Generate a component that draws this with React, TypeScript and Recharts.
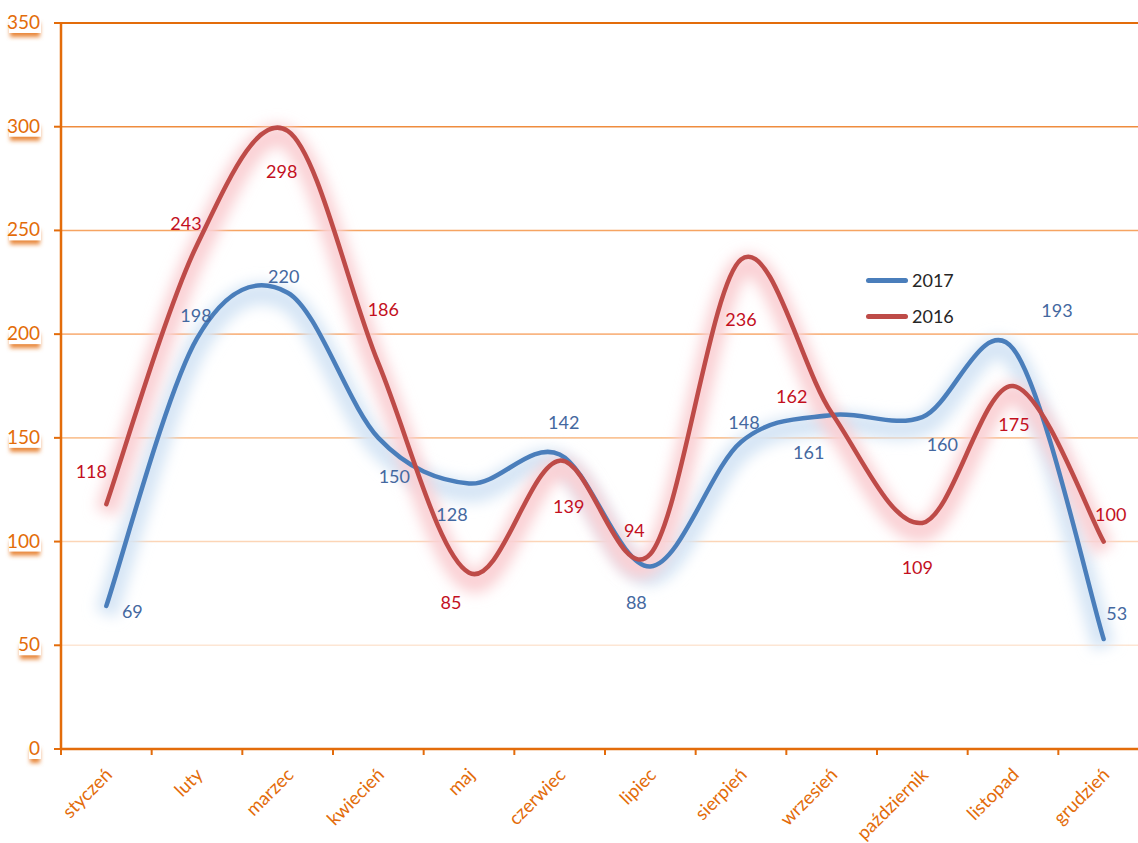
import React from 'react';
import { LineChart, Line, XAxis, YAxis, ReferenceLine, LabelList } from 'recharts';

const months = ['styczeń', 'luty', 'marzec', 'kwiecień', 'maj', 'czerwiec', 'lipiec', 'sierpień', 'wrzesień', 'październik', 'listopad', 'grudzień'];
const values2017 = [69, 198, 220, 150, 128, 142, 88, 148, 161, 160, 193, 53];
const values2016 = [118, 243, 298, 186, 85, 139, 94, 236, 162, 109, 175, 100];
const yTicks = [0, 50, 100, 150, 200, 250, 300, 350];
const seriesNames = ['2017', '2016'];

// label placement relative to the point (layout only)
const offsets2017 = [[26, 6], [-1, -22], [-4, -16], [16, 39], [-17, 32], [4, -31], [-14, 37], [3, -19], [-23, 38], [20, 28], [44, -38], [13, -25]];
const offsets2016 = [[-15, -32], [-11, -21], [-6, 41], [5, -53], [-18, 30], [9, 46], [-16, -23], [0, 61], [-40, -16], [-5, 45], [1, 39], [7, -27]];

const gridColors: Record<number, string> = {
  50: '#FDE6D4', 100: '#FCD5B6', 150: '#FAC497', 200: '#F9B683', 250: '#F6A462', 300: '#EF8C3E', 350: '#E36C0A',
};

const ORANGE = '#E36C0A';
const BLUE = '#4A7EBB';
const RED = '#BE4B48';
const FONT = 'Lato, "Open Sans", sans-serif';

const CHART_W = 1150;
const LEFT = 61;
const PLOT_W = 1088;
const HALF_BAND = PLOT_W / months.length / 2;

const data = months.map((m, i) => ({ month: m, y2017: values2017[i], y2016: values2016[i] }));

// Excel-like smoothing (Catmull-Rom as cubic bezier)
const smoothCurve: any = (context: any) => {
  let pts: number[][] = [];
  return {
    areaStart() {},
    areaEnd() {},
    lineStart() { pts = []; },
    point(x: number, y: number) { pts.push([+x, +y]); },
    lineEnd() {
      if (!pts.length) return;
      context.moveTo(pts[0][0], pts[0][1]);
      for (let i = 0; i < pts.length - 1; i++) {
        const p0 = pts[i - 1] || pts[i];
        const p1 = pts[i];
        const p2 = pts[i + 1];
        const p3 = pts[i + 2] || p2;
        context.bezierCurveTo(
          p1[0] + (p2[0] - p0[0]) / 6, p1[1] + (p2[1] - p0[1]) / 6,
          p2[0] - (p3[0] - p1[0]) / 6, p2[1] - (p3[1] - p1[1]) / 6,
          p2[0], p2[1]
        );
      }
    },
  };
};

const YTick = (props: any) => {
  const { x, y, payload } = props;
  const label = String(payload.value);
  const w = label.length * 10;
  const right = x - 12;
  return (
    <g>
      <rect x={right - w} y={y} width={w} height={14} fill="#E8873A" filter="url(#tickShadow)" />
      <rect x={right - w - 1} y={y - 11} width={w + 2} height={21} fill="#fff" />
      <text x={right} y={y} dy={6} textAnchor="end" fill={ORANGE} fontSize={19} fontFamily={FONT}>{label}</text>
    </g>
  );
};

const XTick = (props: any) => {
  const { x, y, payload } = props;
  return (
    <g>
      <line x1={x - HALF_BAND} x2={x - HALF_BAND} y1={y - 8} y2={y - 2} stroke={ORANGE} strokeWidth={2} />
      <text x={x + 7} y={y + 19} textAnchor="end" fill={ORANGE} fontSize={18.5} fontFamily={FONT}
        transform={`rotate(-45, ${x + 7}, ${y + 19})`}>{payload.value}</text>
    </g>
  );
};

const makeLabel = (offsets: number[][], color: string) => (props: any) => {
  const { x, y, value, index } = props;
  const [dx, dy] = offsets[index];
  return (
    <text x={x + dx} y={y + dy} dy={6} textAnchor="middle" fill={color} fontSize={18} fontFamily={FONT}>{value}</text>
  );
};

const LegendBox = () => (
  <div style={{ position: 'absolute', left: 866, top: 262, fontFamily: FONT, fontSize: 18, color: '#262626' }}>
    {[BLUE, RED].map((c, i) => (
      <div key={seriesNames[i]} style={{ display: 'flex', alignItems: 'center', height: 36 }}>
        <div style={{ width: 42, height: 5, borderRadius: 3, background: c, marginRight: 4 }} />
        <span>{seriesNames[i]}</span>
      </div>
    ))}
  </div>
);

export default function App() {
  return (
    <div style={{ position: 'fixed', left: 0, top: 0, width: 1138, height: 843, overflow: 'hidden', background: '#fff' }}>
      <LineChart width={CHART_W} height={843} data={data} margin={{ top: 23, right: CHART_W - LEFT - PLOT_W, bottom: 0, left: 0 }}>
        <defs>
          <filter id="tickShadow" x="-50%" y="-100%" width="200%" height="300%">
            <feGaussianBlur stdDeviation="2" />
          </filter>
          <filter id="glow" filterUnits="userSpaceOnUse" x="0" y="0" width="1200" height="843">
            <feGaussianBlur stdDeviation="7" />
            <feOffset dy="8" />
          </filter>
        </defs>
        {yTicks.filter((t) => t > 0).map((t) => (
          <ReferenceLine key={t} y={t} stroke={gridColors[t]} strokeWidth={t === 350 ? 2 : 1.6} />
        ))}
        <XAxis dataKey="month" scale="band" axisLine={{ stroke: ORANGE, strokeWidth: 2.5 }} tickLine={false} height={94} tick={<XTick />} interval={0} />
        <YAxis domain={[0, 350]} ticks={yTicks} width={LEFT} axisLine={{ stroke: ORANGE, strokeWidth: 2.5 }}
          tickLine={{ stroke: ORANGE, strokeWidth: 2 }} tickSize={7} tick={<YTick />} interval={0} />
        <Line dataKey="y2017" type={smoothCurve} stroke="#D5E5F5" strokeWidth={22} dot={false} filter="url(#glow)" legendType="none" isAnimationActive={false} />
        <Line dataKey="y2016" type={smoothCurve} stroke="#FAD0D4" strokeWidth={22} dot={false} filter="url(#glow)" legendType="none" isAnimationActive={false} />
        <Line dataKey="y2017" name="2017" type={smoothCurve} stroke={BLUE} strokeWidth={4.5} strokeLinecap="round" dot={false} isAnimationActive={false}>
          <LabelList dataKey="y2017" content={makeLabel(offsets2017, '#4468A0')} />
        </Line>
        <Line dataKey="y2016" name="2016" type={smoothCurve} stroke={RED} strokeWidth={4.5} strokeLinecap="round" dot={false} isAnimationActive={false}>
          <LabelList dataKey="y2016" content={makeLabel(offsets2016, '#C3101E')} />
        </Line>
      </LineChart>
      <LegendBox />
    </div>
  );
}
